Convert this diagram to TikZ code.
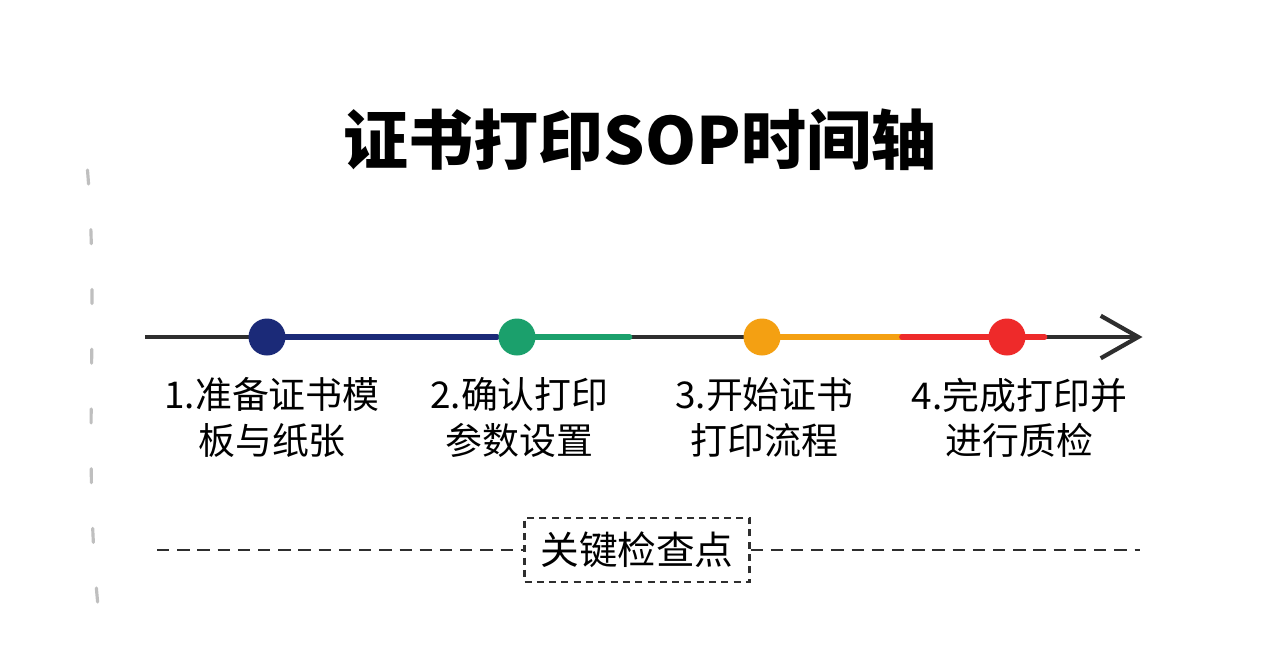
\documentclass[tikz,border=0pt]{standalone}
\usepackage{fontspec}
\setmainfont{Noto Sans CJK SC}
\usetikzlibrary{arrows.meta,positioning}
\definecolor{inknavy}{HTML}{1B2A78}
\definecolor{inkgreen}{HTML}{1BA06C}
\definecolor{inkorange}{HTML}{F4A012}
\definecolor{inkred}{HTML}{EE2A2A}
\definecolor{inkgray}{HTML}{2E2E2E}
\tikzset{
    %Define standard arrow tip
    >={Straight Barb[length=0.75cm,width=0.85cm,line width=2.4pt]},
    %Define style for the dots on the line
    dot/.style={
           circle,
           minimum size=0.74cm,
           inner sep=0pt},
    %Define style for the step labels
    steplabel/.style={
           below=0.69cm,
           align=center,
           font=\fontsize{21}{26}\selectfont},
    % Define style for coloured segments
    seg/.style={
           line width=3.2pt,
           line cap=round},
    % Define dashed style
    dashline/.style={
           dashed,
           dash pattern=on 7pt off 4.5pt,
           line width=1.6pt,
           draw=inkgray}
}
\begin{document}
\begin{tikzpicture}
  \useasboundingbox[fill=white] (0,0) rectangle (25.6,-12.92);
  % torn margin marks
  \draw[gray!50,line width=1.8pt,dash pattern=on 8pt off 26pt,line cap=round]
    (1.75,-3.4) .. controls (2.0,-6.5) and (1.6,-9.5) .. (2.05,-12.9);
  \node[font=\bfseries\fontsize{37}{42}\selectfont] (title) at (12.8,-2.8) {证书打印SOP时间轴};
  % the time line
  \coordinate (start) at (2.9,-6.74);
  \coordinate (end) at (22.85,-6.74);
  \draw[->,inkgray,line width=2.4pt] (start) -- (end);
  \draw[seg,inknavy] (5.34,-6.74) -- ++(4.6,0);
  \draw[seg,inkgreen] (10.34,-6.74) -- ++(2.25,0);
  \draw[seg,inkorange] (15.24,-6.74) -- ++(2.8,0);
  \draw[seg,inkred] (20.14,-6.74) -- ++(-2.1,0);
  \draw[seg,inkred] (20.14,-6.74) -- ++(0.75,0);
  \node[dot,fill=inknavy] (p1) at (5.34,-6.74) {};
  \node[dot,fill=inkgreen] (p2) at (10.34,-6.74) {};
  \node[dot,fill=inkorange] (p3) at (15.24,-6.74) {};
  \node[dot,fill=inkred] (p4) at (20.14,-6.74) {};
  \node[steplabel] at (p1) [xshift=0.1cm] (l1) {1.准备证书模\\板与纸张};
  \node[steplabel] at (p2) [xshift=0.05cm] (l2) {2.确认打印\\参数设置};
  \node[steplabel] at (p3) [xshift=0.05cm] (l3) {3.开始证书\\打印流程};
  \node[steplabel] at (p4) [xshift=0.25cm] (l4) {4.完成打印并\\进行质检};
  % key check points
  \node[draw=inkgray,dashed,dash pattern=on 4pt off 3pt,line width=1.2pt,
        minimum width=4.5cm,minimum height=1.28cm,
        font=\fontsize{22}{26}\selectfont] (check) at (12.74,-11.0) {关键检查点};
  \coordinate (dl) at (3.14,-11.0);
  \coordinate (dr) at (22.8,-11.0);
  \draw[dashline] (dl) -- (check.west);
  \draw[dashline] (check.east) -- (dr);
\end{tikzpicture}
\end{document}
